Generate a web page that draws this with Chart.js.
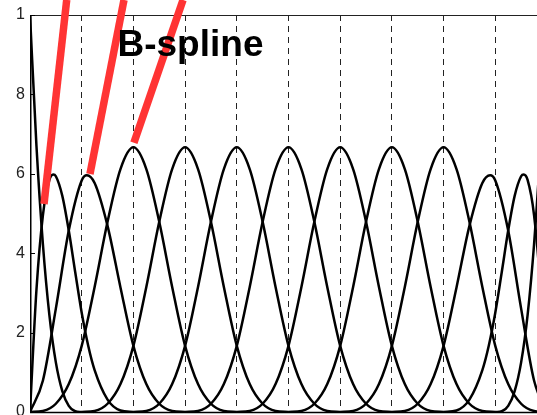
<!DOCTYPE html>
<html>
<head>
<meta charset="utf-8">
<script src="https://cdn.jsdelivr.net/npm/chart.js@4.4.1/dist/chart.umd.min.js"></script>
<style>
  html, body { margin: 0; padding: 0; background: #fff; }
  #wrap { width: 537px; height: 415px; }
</style>
</head>
<body>
<div id="wrap"><canvas id="c" width="537" height="415"></canvas></div>
<script>
// Knot positions (interior knots shown as dashed guides)
const knotTicks = [1, 2, 3, 4, 5, 6, 7, 8, 9];

// Y axis tick values and their printed labels
const yTickValues = [0, 0.2, 0.4, 0.6, 0.8, 1];
const yTickLabels = ['0', '2', '4', '6', '8', '1'];

// Interior cubic basis function, sampled across its support (offset from its centre knot)
const bumpOffsets = [-2, -1.75, -1.5, -1.25, -1, -0.75, -0.5, -0.25, 0, 0.25, 0.5, 0.75, 1, 1.25, 1.5, 1.75, 2];
const bumpValues  = [0, 0.0026, 0.0208, 0.0703, 0.1667, 0.3151, 0.4792, 0.6120, 0.6667, 0.6120, 0.4792, 0.3151, 0.1667, 0.0703, 0.0208, 0.0026, 0];
const bumpCenters = [2, 3, 4, 5, 6, 7, 8];

// Boundary basis functions at the clamped left end (the right end is their mirror image)
const edgeX0 = [0, 0.125, 0.25, 0.375, 0.5, 0.625, 0.75, 0.875, 1];
const edgeY0 = [1, 0.6699, 0.4219, 0.2441, 0.125, 0.0527, 0.0156, 0.0020, 0];
const edgeX1 = [0, 0.125, 0.25, 0.375, 0.45, 0.5, 0.625, 0.75, 0.875, 1, 1.125, 1.25, 1.5, 1.75, 2];
const edgeY1 = [0, 0.3081, 0.4961, 0.5845, 0.5982, 0.5938, 0.5444, 0.4570, 0.3521, 0.25, 0.1675, 0.1055, 0.0313, 0.0039, 0];
const edgeX2 = [0, 0.25, 0.5, 0.75, 1, 1.1, 1.25, 1.5, 1.75, 2, 2.25, 2.5, 2.75, 3];
const edgeY2 = [0, 0.0794, 0.2604, 0.4570, 0.5833, 0.5964, 0.5768, 0.4688, 0.3138, 0.1667, 0.0703, 0.0208, 0.0026, 0];
const domainEnd = 10;
const viewMax = 9.807;

// Red pointer strokes: top end and tip, in data units
const pointerTop = [[0.71, 1.038], [1.818, 1.038], [2.96, 1.038]];
const pointerTip = [[0.271, 0.524], [1.16, 0.5995], [2.01, 0.678]];

function toPoints(xs, ys) {
  return xs.map((x, i) => ({ x: x, y: ys[i] }));
}
function mirrored(xs, ys) {
  return xs.map((x, i) => ({ x: domainEnd - x, y: ys[i] })).reverse();
}

const curveStyle = {
  borderColor: '#000',
  borderWidth: 2.5,
  pointRadius: 0,
  fill: false,
  cubicInterpolationMode: 'monotone',
  order: 1
};

const datasets = [];
pointerTop.forEach((p, i) => {
  datasets.push({
    data: [{ x: p[0], y: p[1] }, { x: pointerTip[i][0], y: pointerTip[i][1] }],
    borderColor: '#ff3434',
    borderWidth: 7.5,
    borderCapStyle: 'butt',
    pointRadius: 0,
    tension: 0,
    clip: false,
    order: 0
  });
});
datasets.push(Object.assign({ data: toPoints(edgeX0, edgeY0) }, curveStyle));
datasets.push(Object.assign({ data: toPoints(edgeX1, edgeY1) }, curveStyle));
datasets.push(Object.assign({ data: toPoints(edgeX2, edgeY2) }, curveStyle));
bumpCenters.forEach(c => {
  datasets.push(Object.assign({ data: bumpOffsets.map((o, i) => ({ x: c + o, y: bumpValues[i] })) }, curveStyle));
});
datasets.push(Object.assign({ data: mirrored(edgeX2, edgeY2) }, curveStyle));
datasets.push(Object.assign({ data: mirrored(edgeX1, edgeY1) }, curveStyle));
datasets.push(Object.assign({ data: mirrored(edgeX0, edgeY0) }, curveStyle));

// Axes frame with inward tick marks, plus the heading
const framePlugin = {
  id: 'frame',
  beforeDatasetsDraw(chart) {
    const { ctx, chartArea: a, scales } = chart;
    ctx.save();
    ctx.strokeStyle = '#222';
    ctx.lineWidth = 1;
    ctx.beginPath();
    ctx.moveTo(a.left, a.top + 0.5);
    ctx.lineTo(a.right, a.top + 0.5);
    ctx.stroke();
    ctx.strokeStyle = '#000';
    ctx.lineWidth = 1.5;
    ctx.beginPath();
    ctx.moveTo(a.left + 0.75, a.bottom);
    ctx.lineTo(a.left + 0.75, a.top);
    ctx.moveTo(a.left, a.bottom + 0.5);
    ctx.lineTo(a.right, a.bottom + 0.5);
    ctx.stroke();
    ctx.lineWidth = 1;
    ctx.beginPath();
    yTickValues.forEach(v => {
      const y = Math.round(scales.y.getPixelForValue(v)) + 0.5;
      ctx.moveTo(a.left, y);
      ctx.lineTo(a.left + 5, y);
    });
    ctx.stroke();
    ctx.restore();
  },
  afterDatasetsDraw(chart) {
    const { ctx } = chart;
    ctx.save();
    ctx.fillStyle = '#000';
    ctx.font = "bold 37px 'Liberation Sans', Arial, Helvetica, sans-serif";
    ctx.textBaseline = 'alphabetic';
    ctx.textAlign = 'left';
    ctx.fillText('B-spline', 117.5, 55.5);
    ctx.restore();
  }
};

new Chart(document.getElementById('c'), {
  type: 'line',
  data: { datasets: datasets },
  plugins: [framePlugin],
  options: {
    responsive: false,
    animation: false,
    events: [],
    layout: { padding: { top: 15, bottom: 3, left: 0, right: 0 } },
    plugins: { legend: { display: false }, tooltip: { enabled: false }, title: { display: false } },
    scales: {
      x: {
        type: 'linear',
        min: 0,
        max: viewMax,
        afterBuildTicks: s => { s.ticks = knotTicks.map(v => ({ value: v })); },
        afterFit: s => { s.height = 0; s.paddingLeft = 0; s.paddingRight = 0; },
        ticks: { display: false },
        grid: { display: true, drawTicks: false, color: '#222', lineWidth: 1 },
        border: { display: false, dash: [6, 5] }
      },
      y: {
        type: 'linear',
        min: 0,
        max: 1,
        afterBuildTicks: s => { s.ticks = yTickValues.map(v => ({ value: v })); },
        afterFit: s => { s.width = 30; s.paddingTop = 0; s.paddingBottom = 0; },
        ticks: {
          padding: 5,
          color: '#222',
          font: { family: "'Liberation Sans', Arial, Helvetica, sans-serif", size: 16 },
          callback: (v, i) => yTickLabels[i]
        },
        grid: { display: false, drawTicks: false },
        border: { display: false }
      }
    }
  }
});
</script>
</body>
</html>
